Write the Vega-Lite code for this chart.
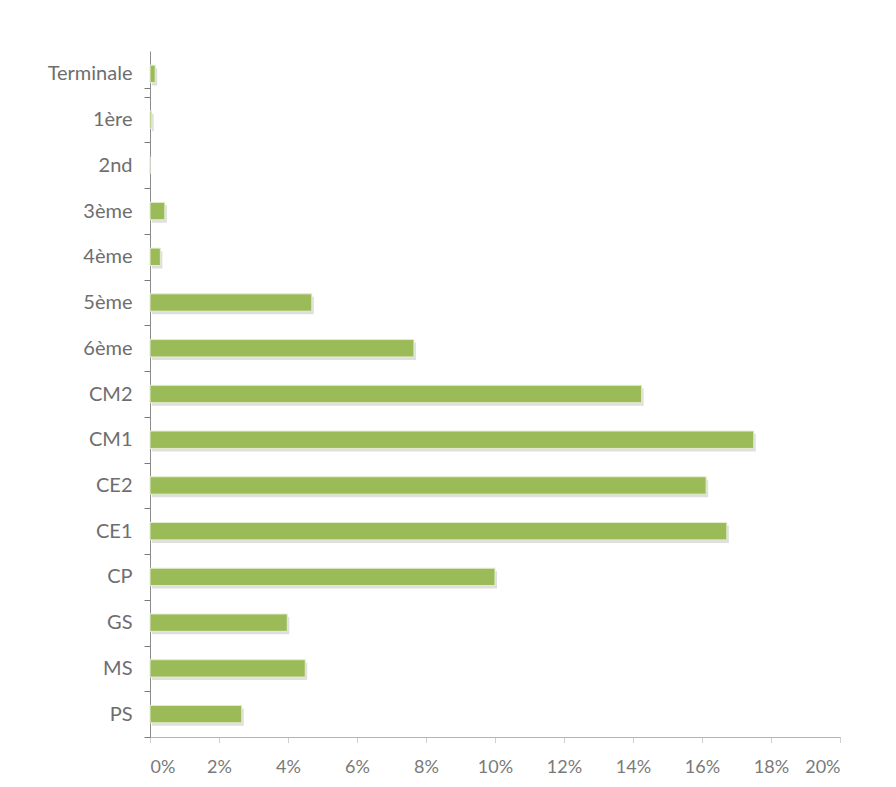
{
  "$schema": "https://vega.github.io/schema/vega-lite/v6.json",
  "width": 690,
  "height": 686,
  "autosize": {"type": "none"},
  "padding": {"left": 150, "top": 51, "right": 56, "bottom": 50},
  "background": "white",
  "config": {"view": {"stroke": null}, "font": "Lato"},
  "data": {
    "values": [
      {"niveau": "Terminale", "pct": 0.15},
      {"niveau": "1ère", "pct": 0.05},
      {"niveau": "2nd", "pct": 0},
      {"niveau": "3ème", "pct": 0.43},
      {"niveau": "4ème", "pct": 0.3},
      {"niveau": "5ème", "pct": 4.69},
      {"niveau": "6ème", "pct": 7.65},
      {"niveau": "CM2", "pct": 14.25},
      {"niveau": "CM1", "pct": 17.5},
      {"niveau": "CE2", "pct": 16.12},
      {"niveau": "CE1", "pct": 16.72},
      {"niveau": "CP", "pct": 10.0},
      {"niveau": "GS", "pct": 3.98},
      {"niveau": "MS", "pct": 4.5},
      {"niveau": "PS", "pct": 2.66}
    ]
  },
  "encoding": {
    "y": {
      "field": "niveau",
      "type": "nominal",
      "sort": null,
      "scale": {"paddingInner": 0.62, "paddingOuter": 0.31},
      "axis": {
        "title": null,
        "tickOffset": 22.87,
        "labelOffset": -22.87,
        "tickExtra": true,
        "tickSize": 6,
        "tickWidth": 1,
        "tickColor": "#7a7a7a",
        "domainColor": "#8c8c8c",
        "labelFont": "Lato",
        "labelFontSize": 20,
        "labelColor": "#6e6e6e",
        "labelPadding": 12
      }
    },
    "x": {
      "field": "pct",
      "type": "quantitative",
      "scale": {"domain": [0, 20], "nice": false},
      "axis": {
        "title": null,
        "values": [0, 2, 4, 6, 8, 10, 12, 14, 16, 18, 20],
        "labelExpr": "datum.value + '%'",
        "grid": false,
        "tickSize": 5,
        "tickDash": [1, 1],
        "tickColor": "#a0a0a0",
        "domainColor": "#b4b4b4",
        "labelFont": "Lato",
        "labelFontSize": 18,
        "labelColor": "#7a7a7a",
        "labelPadding": 16
      }
    }
  },
  "layer": [
    {
      "mark": {"type": "bar", "color": "#7f7f7f", "opacity": 0.25, "xOffset": 2, "yOffset": 3}
    },
    {
      "mark": {"type": "bar", "color": "#9bbb59", "stroke": "#e4edcf", "strokeWidth": 1}
    }
  ]
}
